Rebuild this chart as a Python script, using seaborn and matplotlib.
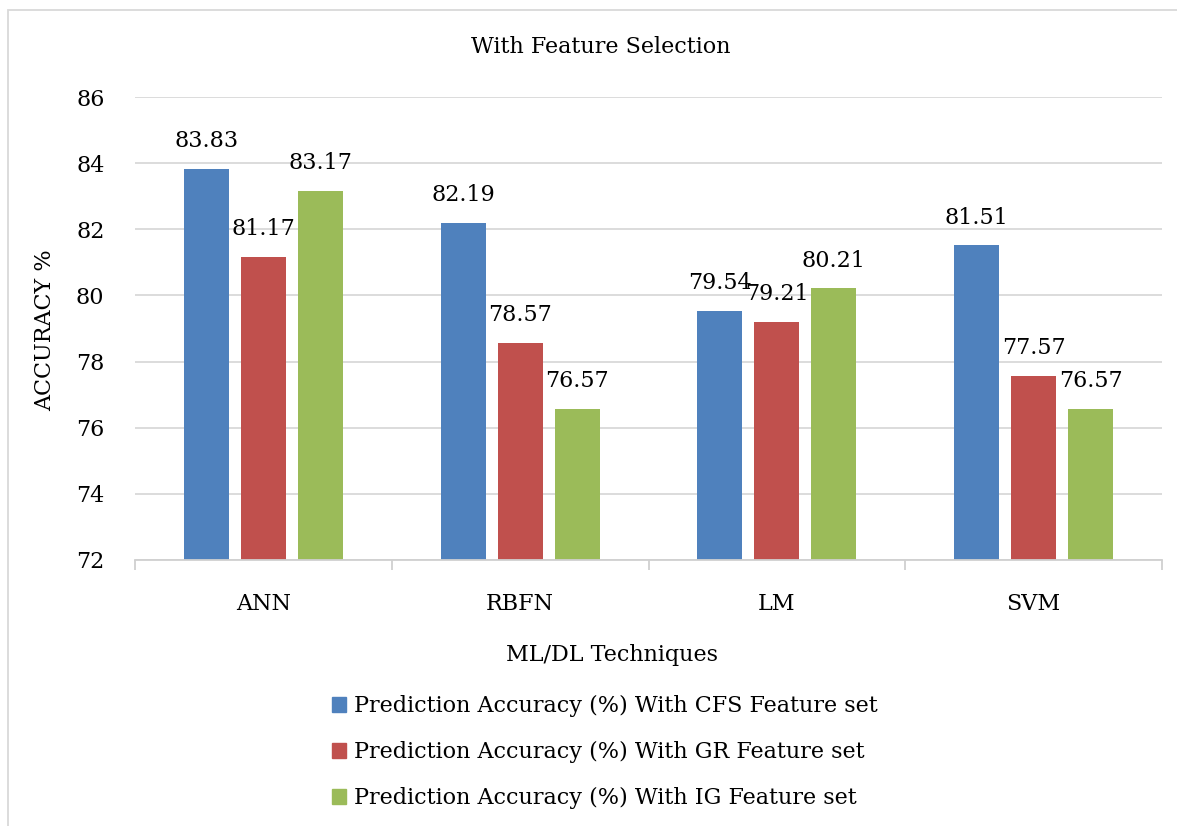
import matplotlib
matplotlib.use("Agg")
import matplotlib.pyplot as plt
from matplotlib.patches import Rectangle
from matplotlib.ticker import FixedLocator
import numpy as np
import pandas as pd
import seaborn as sns

# datos
techniques = ["ANN", "RBFN", "LM", "SVM"]
series_names = [
    "Prediction Accuracy (%) With CFS Feature set",
    "Prediction Accuracy (%) With GR Feature set",
    "Prediction Accuracy (%) With IG Feature set",
]
cfs_acc = [83.83, 82.19, 79.54, 81.51]
gr_acc = [81.17, 78.57, 79.21, 77.57]
ig_acc = [83.17, 76.57, 80.21, 76.57]
y_ticks = [72, 74, 76, 78, 80, 82, 84, 86]

colors = ["#4F81BD", "#C0504D", "#9BBB59"]

df = pd.DataFrame({
    "technique": techniques * 3,
    "series": [s for s in series_names for _ in techniques],
    "accuracy": cfs_acc + gr_acc + ig_acc,
})

sns.set_style("white")
plt.rcParams["font.family"] = ["DejaVu Serif"]
plt.rcParams["text.color"] = "black"
plt.rcParams["xtick.labelcolor"] = "black"
plt.rcParams["ytick.labelcolor"] = "black"
FS = 16

fig = plt.figure(figsize=(11.77, 8.26), dpi=100)
ax = fig.add_axes([135 / 1177, 1 - 560 / 826, (1162 - 135) / 1177, (560 - 97) / 826])

sns.barplot(data=df, x="technique", y="accuracy", hue="series",
            order=techniques, hue_order=series_names, palette=colors,
            width=3 * 57 / 257, gap=0.21, saturation=1, linewidth=0,
            ax=ax, legend=False)

for cont in ax.containers:
    ax.bar_label(cont, fmt="%.2f", padding=12, fontsize=FS, color="black")

ax.set_ylim(72, 86)
ax.set_xlim(-0.5, len(techniques) - 0.5)
ax.set_yticks(y_ticks)
ax.yaxis.grid(True, color="#d9d9d9", linewidth=1.3)
ax.set_axisbelow(True)
for s in ["left", "right", "top"]:
    ax.spines[s].set_visible(False)
ax.spines["bottom"].set_color("#d0d0d0")
ax.spines["bottom"].set_linewidth(1.3)

ax.tick_params(axis="y", length=0, pad=22, labelsize=FS)
ax.tick_params(axis="x", which="major", length=0, pad=24, labelsize=FS)
ax.xaxis.set_minor_locator(FixedLocator(np.arange(-0.5, len(techniques), 1.0)))
ax.tick_params(axis="x", which="minor", bottom=True, length=7, width=1.3,
               color="#d0d0d0", direction="out")
ax.set_xlabel("")
ax.set_ylabel("")

fig.text(601 / 1177, 1 - 47 / 826, "With Feature Selection", ha="center", va="center", fontsize=FS)
fig.text(612 / 1177, 1 - 655 / 826, "ML/DL Techniques", ha="center", va="center", fontsize=FS)
fig.text(45 / 1177, 1 - 330 / 826, "ACCURACY %", ha="center", va="center", rotation=90, fontsize=FS)

handles = [Rectangle((0, 0), 1, 1, color=c) for c in colors]
fig.legend(handles, series_names, loc="upper center", bbox_to_anchor=(605 / 1177, 1 - 675 / 826),
           frameon=False, fontsize=FS, handlelength=0.65, handleheight=0.65,
           handletextpad=0.35, labelspacing=1.08)

# borde del área del gráfico
fig.patches.append(Rectangle((8 / 1177, -0.05), 1.1, 1 - 10 / 826 + 0.05, fill=False,
                             edgecolor="#d9d9d9", linewidth=1.3, transform=fig.transFigure))

fig.savefig("out.png", dpi=100)
